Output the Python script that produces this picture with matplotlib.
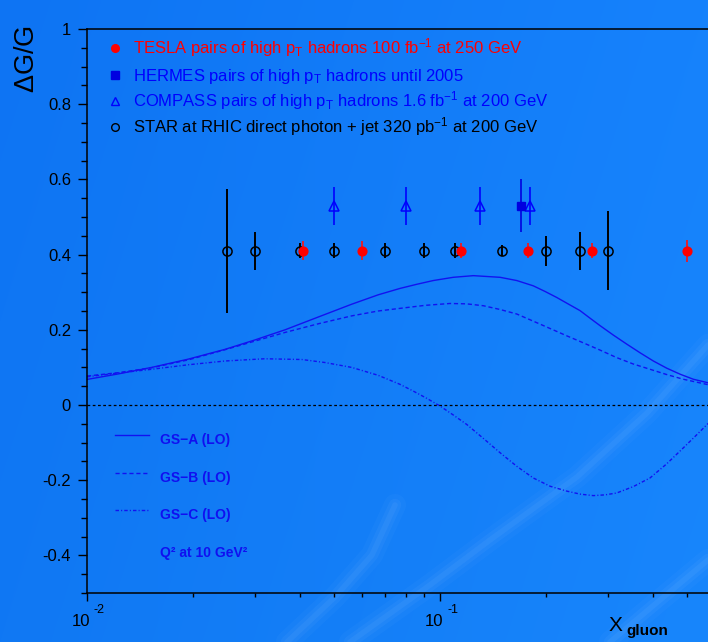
import matplotlib
matplotlib.use("Agg")
import matplotlib.pyplot as plt
import numpy as np
from matplotlib import transforms
from matplotlib.ticker import MultipleLocator, LogLocator, NullFormatter, FuncFormatter

W, H, DPI = 708, 642, 100

# measured points: x_gluon, DeltaG/G, error
star_x = [0.025, 0.03, 0.04, 0.05, 0.07, 0.09, 0.11, 0.15, 0.2, 0.25, 0.3]
star_y = [0.41, 0.41, 0.41, 0.41, 0.41, 0.41, 0.41, 0.41, 0.41, 0.41, 0.41]
star_err = [0.165, 0.05, 0.02, 0.02, 0.02, 0.02, 0.02, 0.015, 0.04, 0.05, 0.105]

tesla_x = [0.041, 0.06, 0.115, 0.178, 0.27, 0.5]
tesla_y = [0.41, 0.41, 0.41, 0.41, 0.41, 0.41]
tesla_err = [0.025, 0.025, 0.02, 0.02, 0.02, 0.03]

compass_x = [0.05, 0.08, 0.13, 0.18]
compass_y = [0.53, 0.53, 0.53, 0.53]
compass_err = [0.05, 0.05, 0.05, 0.05]

hermes_x = [0.17]
hermes_y = [0.53]
hermes_err = [0.07]

# GS parametrisations at Q^2 = 10 GeV^2
gsa_x = [0.01, 0.01227, 0.01525, 0.01936, 0.0246, 0.0299, 0.0364, 0.0452, 0.0562, 0.0668,
         0.077, 0.0859, 0.0957, 0.109, 0.1243, 0.148, 0.165, 0.1837, 0.1984, 0.2141, 0.231,
         0.2493, 0.266, 0.2841, 0.3097, 0.338, 0.3686, 0.4022, 0.4387, 0.4786, 0.522, 0.575]
gsa_y = [0.068, 0.0827, 0.10, 0.122, 0.148, 0.173, 0.20, 0.234, 0.268, 0.293,
         0.31, 0.321, 0.331, 0.3396, 0.344, 0.3396, 0.331, 0.317, 0.302, 0.286, 0.2685,
         0.251, 0.231, 0.211, 0.186, 0.162, 0.139, 0.117, 0.098, 0.082, 0.0685, 0.059]

gsb_x = [0.01, 0.01227, 0.01525, 0.01936, 0.0246, 0.0299, 0.0364, 0.0452, 0.0562, 0.0668,
         0.077, 0.0907, 0.1067, 0.119, 0.1327, 0.148, 0.165, 0.1837, 0.205, 0.2286, 0.2547,
         0.2841, 0.3167, 0.3529, 0.3935, 0.4387, 0.489, 0.575]
gsb_y = [0.077, 0.086, 0.099, 0.12, 0.147, 0.17, 0.193, 0.216, 0.237, 0.25,
         0.257, 0.265, 0.27, 0.269, 0.264, 0.254, 0.242, 0.223, 0.2035, 0.184, 0.1653,
         0.146, 0.126, 0.109, 0.095, 0.081, 0.0685, 0.054]

gsc_x = [0.01, 0.01227, 0.01525, 0.01936, 0.0246, 0.0319, 0.0406, 0.0472, 0.0562, 0.0668,
         0.077, 0.084, 0.0917, 0.1, 0.1091, 0.119, 0.1327, 0.148, 0.165, 0.1837, 0.205,
         0.2286, 0.2493, 0.2719, 0.2934, 0.3167, 0.3529, 0.3935, 0.4387, 0.489, 0.528, 0.575]
gsc_y = [0.075, 0.085, 0.095, 0.107, 0.117, 0.123, 0.121, 0.113, 0.10, 0.079,
         0.055, 0.037, 0.0178, -0.0027, -0.0267, -0.0516, -0.0889, -0.127, -0.163, -0.194, -0.216,
         -0.229, -0.237, -0.241, -0.239, -0.234, -0.217, -0.194, -0.1565, -0.114, -0.0835, -0.049]

plt.rcParams['font.family'] = ['Liberation Sans', 'DejaVu Sans']
plt.rcParams['mathtext.fontset'] = 'custom'
plt.rcParams['mathtext.rm'] = 'Liberation Sans'
plt.rcParams['mathtext.it'] = 'Liberation Sans:italic'
plt.rcParams['mathtext.bf'] = 'Liberation Sans:bold'

fig = plt.figure(figsize=(W / DPI, H / DPI), dpi=DPI)


def px(x, y):
    """pixel position (from top-left) -> figure fraction"""
    return x / W, 1 - y / H


# blue backdrop with a couple of soft light streaks
bg = fig.add_axes([0, 0, 1, 1], zorder=0)
gx = np.linspace(0, 1, W)[None, :]
gy = np.linspace(0, 1, H)[:, None]
r = 14 + 8 * gx + 2 * gy
g = 116 + 14 * gx + 4 * gy
b = 243 + 9 * gx + 0 * gy
img = np.dstack([r + 0 * gy, g + 0 * gy, b + 0 * gy]) / 255.0
bg.imshow(np.clip(img, 0, 1), extent=(0, W, H, 0), aspect='auto')
streaks = [
    ([350, 430, 490, 577, 647, 708], [642, 585, 540, 477, 413, 345]),
    ([287, 335, 372, 395], [642, 597, 555, 505]),
    ([610, 660, 708], [642, 600, 560]),
]
for sx, sy in streaks:
    for lw, a in [(16, 0.025), (9, 0.035), (4, 0.045)]:
        bg.plot(sx, sy, color='white', lw=lw, alpha=a, solid_capstyle='round',
                solid_joinstyle='round')
bg.set_xlim(0, W)
bg.set_ylim(H, 0)
bg.axis('off')

# main frame, the x range runs to 1 beyond the right edge
ax = fig.add_axes([87 / W, 1 - 593 / H, (793 - 87) / W, (593 - 29) / H], zorder=1)
ax.set_facecolor('none')
ax.set_xscale('log')
ax.set_xlim(0.01, 1)
ax.set_ylim(-0.5, 1)

curve_col = '#1212f0'
ax.plot(gsa_x, gsa_y, color=curve_col, lw=1.0)
ax.plot(gsb_x, gsb_y, color=curve_col, lw=1.0, dashes=(3, 2))
ax.plot(gsc_x, gsc_y, color=curve_col, lw=1.0, dashes=(2.5, 1.5, 0.8, 1.5))
ax.axhline(0, color='black', lw=0.9, dashes=(2.2, 2))

ax.errorbar(star_x, star_y, yerr=star_err, fmt='o', mfc='none', mec='black', mew=1.1,
            ms=6.6, ecolor='black', elinewidth=1.4, capsize=0, zorder=3)
ax.errorbar(tesla_x, tesla_y, yerr=tesla_err, fmt='o', mfc='#ff0000', mec='#ff0000',
            ms=6.3, ecolor='#ff1010', elinewidth=1.2, capsize=0, zorder=4)
ax.errorbar(compass_x, compass_y, yerr=compass_err, fmt='^', mfc='none', mec='#0000ff',
            mew=1.1, ms=7.5, ecolor='#0000ff', elinewidth=1.2, capsize=0, zorder=4)
ax.errorbar(hermes_x, hermes_y, yerr=hermes_err, fmt='s', mfc='#0000e0', mec='#0000e0',
            ms=6.2, ecolor='#0000e0', elinewidth=1.2, capsize=0, zorder=4)

# axis styling
for side in ['left', 'bottom', 'top']:
    ax.spines[side].set_linewidth(1.1)
ax.spines['right'].set_visible(False)
ax.set_yticks([-0.4, -0.2, 0, 0.2, 0.4, 0.6, 0.8, 1.0])
ax.yaxis.set_minor_locator(MultipleLocator(0.05))
ax.yaxis.set_major_formatter(FuncFormatter(lambda v, p: f"{v:g}" if abs(v) > 1e-9 else "0"))
ax.xaxis.set_major_locator(LogLocator(base=10))
ax.xaxis.set_minor_locator(LogLocator(base=10, subs=np.arange(2, 10)))
ax.xaxis.set_major_formatter(NullFormatter())
ax.xaxis.set_minor_formatter(NullFormatter())
ax.tick_params(axis='y', which='major', direction='out', length=6.5, width=1, pad=5,
               labelsize=12, left=True, right=False)
ax.tick_params(axis='y', which='minor', direction='out', length=4, width=1)
ax.tick_params(axis='x', which='major', direction='out', length=6, width=1, top=False)
ax.tick_params(axis='x', which='minor', direction='out', length=3, width=1, top=False)

# ROOT-like decade labels below the x axis
for dec, expo in [(0.01, '-2'), (0.1, '-1')]:
    trans = transforms.blended_transform_factory(ax.transData, ax.transAxes)
    t10 = transforms.offset_copy(trans, fig=fig, x=3 * 72 / DPI, y=-29 * 72 / DPI, units='points')
    tex = transforms.offset_copy(trans, fig=fig, x=7 * 72 / DPI, y=-17 * 72 / DPI, units='points')
    ax.text(dec, 0, '10', transform=t10, ha='right', va='center', fontsize=12)
    ax.text(dec, 0, expo, transform=tex, ha='left', va='center', fontsize=9)

# axis titles
fig.text(*px(27, 25), r'$\Delta$G/G', rotation=90, ha='center', va='top', fontsize=19.5)
fig.text(*px(609, 631), 'X', ha='left', va='baseline', fontsize=15)
fig.text(*px(626, 635), 'gluon', ha='left', va='baseline', fontsize=11, fontweight='bold')

# data legend
leg_rows = [
    (47.5, 53.3, 'o', '#ff0000', '#ff0000', '#ff0000',
     r'TESLA pairs of high p$_\mathrm{T}$ hadrons 100 fb$^\mathrm{-1}$ at 250 GeV'),
    (75, 81, 's', '#0000e0', '#0000e0', '#0000ff',
     r'HERMES pairs of high p$_\mathrm{T}$ hadrons until 2005'),
    (101, 106.7, '^', 'none', '#0000ff', '#0000ff',
     r'COMPASS pairs of high p$_\mathrm{T}$ hadrons 1.6 fb$^\mathrm{-1}$ at 200 GeV'),
    (126.5, 132.3, 'o', 'none', 'black', 'black',
     r'STAR at RHIC direct photon + jet 320 pb$^\mathrm{-1}$ at 200 GeV'),
]
for ym, yb, mk, fc, ec, tc, label in leg_rows:
    fig.lines.append(plt.Line2D([115 / W], [1 - ym / H], marker=mk, ms=5.5, mfc=fc, mec=ec,
                                mew=1.0, transform=fig.transFigure, figure=fig))
    fig.text(*px(133, yb), label, ha='left', va='baseline', fontsize=12, color=tc)

# parametrisation legend
curve_rows = [
    (435, 444, {}, 'GS\u2212A (LO)'),
    (472.7, 482, {'dashes': (3, 2)}, 'GS\u2212B (LO)'),
    (510, 519, {'dashes': (2.5, 1.5, 0.8, 1.5)}, 'GS\u2212C (LO)'),
]
for yl, yb, style, label in curve_rows:
    fig.lines.append(plt.Line2D([115 / W, 149 / W], [1 - yl / H, 1 - yl / H], color=curve_col,
                                lw=1.0, transform=fig.transFigure, figure=fig, **style))
    fig.text(*px(160, yb), label, ha='left', va='baseline', fontsize=10, fontweight='bold',
             color='#1010f0')
fig.text(*px(160, 556.7), 'Q\u00b2 at 10 GeV\u00b2', ha='left', va='baseline', fontsize=10,
         fontweight='bold', color='#1010f0')

fig.savefig('out.png', dpi=DPI)
